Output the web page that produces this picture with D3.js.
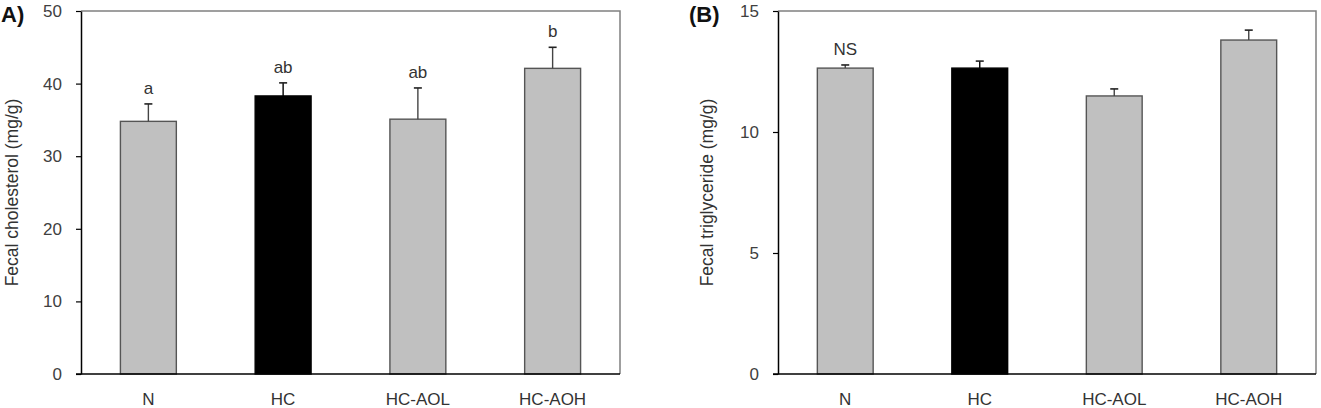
<!DOCTYPE html>
<html><head><meta charset="utf-8">
<script src="https://cdn.jsdelivr.net/npm/d3@7"></script>
<style>body{margin:0;background:#fff;} svg{display:block;font-family:"Liberation Sans",Arial,sans-serif;}</style>
</head><body>
<svg id="c" width="1321" height="408"></svg>
<script>
const categories = ["N", "HC", "HC-AOL", "HC-AOH"];
const cholMean = [34.8, 38.3, 35.1, 42.1];
const cholErr = [2.4, 1.8, 4.3, 2.9];
const cholLetters = ["a", "ab", "ab", "b"];
const cholTicks = [0, 10, 20, 30, 40, 50];
const trigMean = [12.64, 12.64, 11.49, 13.80];
const trigErr = [0.13, 0.29, 0.29, 0.41];
const trigLetters = ["NS", "", "", ""];
const trigTicks = [0, 5, 10, 15];
const fills = ["#c0c0c0", "#000000", "#c0c0c0", "#c0c0c0"];

const svg = d3.select("#c");
const FS = 17;

function panel(opt) {
  const g = svg.append("g");
  const x = d3.scaleBand().domain(categories).range([opt.x0, opt.x1])
    .paddingInner(0.585).paddingOuter(0.2925);
  const y = d3.scaleLinear().domain([0, opt.max]).range([374, 11]);

  g.append("path").attr("d", `M${opt.x0},11H${opt.x1}V374`)
    .attr("fill", "none").attr("stroke", "#808080").attr("stroke-width", 1.5);

  const ya = d3.axisLeft(y).tickValues(opt.ticks).tickSize(5).tickPadding(14).tickSizeOuter(0);
  const yg = g.append("g").attr("transform", `translate(${opt.x0},0)`).call(ya);
  yg.attr("font-size", FS).attr("font-family", "Liberation Sans, Arial, sans-serif");
  yg.select(".domain").attr("stroke", "#000").attr("stroke-width", 1.5);
  yg.selectAll(".tick line").attr("stroke", "#000").attr("stroke-width", 1.2);
  yg.selectAll(".tick text").attr("fill", "#404040");

  g.selectAll("rect.bar").data(opt.mean).enter().append("rect")
    .attr("x", (d, i) => x(categories[i]))
    .attr("y", d => y(d))
    .attr("width", x.bandwidth())
    .attr("height", d => y(0) - y(d))
    .attr("fill", (d, i) => fills[i])
    .attr("stroke", (d, i) => i === 1 ? "#000" : "#555")
    .attr("stroke-width", 1.4);

  opt.mean.forEach((m, i) => {
    const cx = x(categories[i]) + x.bandwidth() / 2;
    g.append("line").attr("x1", cx).attr("x2", cx).attr("y1", y(m)).attr("y2", y(m + opt.err[i]))
      .attr("stroke", i === 1 ? "#000" : "#444").attr("stroke-width", 1.4);
    g.append("line").attr("x1", cx - 4).attr("x2", cx + 4)
      .attr("y1", y(m + opt.err[i])).attr("y2", y(m + opt.err[i]))
      .attr("stroke", "#222").attr("stroke-width", 1.6);
    if (opt.letters[i]) {
      g.append("text").attr("x", cx).attr("y", y(m + opt.err[i]) - 10)
        .attr("text-anchor", "middle").attr("font-size", FS).attr("fill", "#333")
        .text(opt.letters[i]);
    }
  });

  g.append("line").attr("x1", opt.x0 - 5).attr("x2", opt.x1).attr("y1", 374).attr("y2", 374)
    .attr("stroke", "#000").attr("stroke-width", 1.5);
  categories.forEach(c => {
    g.append("text").attr("x", x(c) + x.bandwidth() / 2).attr("y", 405)
      .attr("text-anchor", "middle").attr("font-size", FS).attr("fill", "#333").text(c);
  });

  g.append("text").attr("transform", `translate(${opt.tx},192.5) rotate(-90)`)
    .attr("text-anchor", "middle").attr("dominant-baseline", "central")
    .attr("font-size", 17.5).attr("fill", "#333").text(opt.title);

  g.append("text").attr("x", opt.lx).attr("y", 22).attr("font-size", 22)
    .attr("font-weight", "bold").attr("fill", "#111").text(opt.label);
}

panel({x0: 81, x1: 620, max: 50, ticks: cholTicks, mean: cholMean, err: cholErr,
  letters: cholLetters, title: "Fecal cholesterol (mg/g)", tx: 12, lx: 1, label: "A)"});
panel({x0: 778, x1: 1316, max: 15, ticks: trigTicks, mean: trigMean, err: trigErr,
  letters: trigLetters, title: "Fecal triglyceride (mg/g)", tx: 707, lx: 689, label: "(B)"});
</script>
</body></html>
